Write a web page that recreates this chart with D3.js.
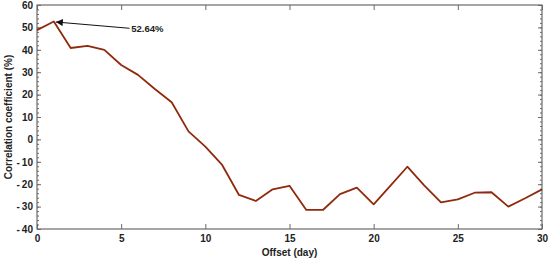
<!DOCTYPE html>
<html>
<head>
<meta charset="utf-8">
<script src="https://cdn.jsdelivr.net/npm/d3@7"></script>
<style>
  body { margin: 0; background: #fff; }
  text { font-family: Arial, "Liberation Sans", sans-serif; font-weight: bold; fill: #222; }
</style>
</head>
<body>
<script>
// offset in days and correlation coefficient (%)
const days = d3.range(0, 31)
const corr = [48.8, 52.64, 40.8, 41.8, 40.0, 33.2, 28.8, 22.5, 16.6, 3.6,
              -3.2, -11.4, -24.8, -27.5, -22.3, -20.7, -31.5, -31.4, -24.4, -21.5,
              -29.0, -20.6, -12.2, -20.5, -28.1, -26.8, -23.8, -23.6, -30.0, -26.3, -22.3]
const xTicks = [0, 5, 10, 15, 20, 25, 30]
const yTicks = [60, 50, 40, 30, 20, 10, 0, -10, -20, -30, -40]
const peakLabel = '52.64%'

const config = {
  width: 550,
  height: 261,
  left: 37,
  right: 542,
  top: 5,
  bottom: 229,
  lineColor: '#8f2a0c',
  axisColor: '#6a6a6a'
}

const svg = d3.select('body').append('svg')
  .attr('width', config.width)
  .attr('height', config.height)

const x = d3.scaleLinear().domain([0, 30]).range([config.left, config.right])
const y = d3.scaleLinear().domain([-40, 60]).range([config.bottom, config.top])

const minorY = d3.range(-40, 61, 2)
const fmt = d => d < 0 ? '-\u2009' + Math.abs(d) : String(d)

// frame
svg.append('rect')
  .attr('x', config.left).attr('y', config.top)
  .attr('width', config.right - config.left).attr('height', config.bottom - config.top)
  .attr('fill', 'none').attr('stroke', config.axisColor).attr('stroke-width', 1.2)

// bottom axis, ticks pointing in
const bottomAxis = svg.append('g').attr('transform', `translate(0,${config.bottom})`)
  .call(d3.axisBottom(x).tickValues(xTicks).tickSizeInner(-5).tickSizeOuter(0).tickPadding(6))
bottomAxis.select('.domain').remove()
bottomAxis.selectAll('line').attr('stroke', config.axisColor)
bottomAxis.selectAll('text').attr('font-size', 10).attr('fill', '#222')

// top axis, ticks only
const topAxis = svg.append('g').attr('transform', `translate(0,${config.top})`)
  .call(d3.axisTop(x).tickValues(xTicks).tickSizeInner(-5).tickSizeOuter(0).tickFormat(''))
topAxis.select('.domain').remove()
topAxis.selectAll('line').attr('stroke', config.axisColor)

// left axis
const leftAxis = svg.append('g').attr('transform', `translate(${config.left},0)`)
  .call(d3.axisLeft(y).tickValues(yTicks).tickSizeInner(-4).tickSizeOuter(0).tickPadding(4).tickFormat(fmt))
leftAxis.select('.domain').remove()
leftAxis.selectAll('line').attr('stroke', config.axisColor)
leftAxis.selectAll('text').attr('font-size', 10).attr('fill', '#222')
svg.append('g').attr('transform', `translate(${config.left},0)`)
  .call(d3.axisLeft(y).tickValues(minorY).tickSize(-2).tickFormat(''))
  .call(g => g.select('.domain').remove())
  .selectAll('line').attr('stroke', config.axisColor)

// right axis
svg.append('g').attr('transform', `translate(${config.right},0)`)
  .call(d3.axisRight(y).tickValues(yTicks).tickSize(-4).tickFormat(''))
  .call(g => g.select('.domain').remove())
  .selectAll('line').attr('stroke', config.axisColor)
svg.append('g').attr('transform', `translate(${config.right},0)`)
  .call(d3.axisRight(y).tickValues(minorY).tickSize(-2).tickFormat(''))
  .call(g => g.select('.domain').remove())
  .selectAll('line').attr('stroke', config.axisColor)

// line
const line = d3.line().x((d, i) => x(days[i])).y(d => y(d))
svg.append('path')
  .datum(corr)
  .attr('d', line)
  .attr('fill', 'none')
  .attr('stroke', config.lineColor)
  .attr('stroke-width', 1.8)
  .attr('stroke-linejoin', 'round')

// annotation arrow at the peak
svg.append('defs').append('marker')
  .attr('id', 'arrow')
  .attr('viewBox', '0 0 10 10')
  .attr('refX', 10).attr('refY', 5)
  .attr('markerWidth', 8).attr('markerHeight', 7)
  .attr('orient', 'auto')
  .append('path').attr('d', 'M0,0 L10,5 L0,10 z').attr('fill', '#111')

const peakX = x(days[1]), peakY = y(corr[1])
svg.append('line')
  .attr('x1', x(5.5)).attr('y1', y(49.6))
  .attr('x2', peakX + 2).attr('y2', peakY + 0.5)
  .attr('stroke', '#111').attr('stroke-width', 1)
  .attr('marker-end', 'url(#arrow)')
svg.append('text')
  .attr('x', x(5.6)).attr('y', y(49.6))
  .attr('dy', '0.35em')
  .attr('font-size', 9.5)
  .text(peakLabel)

// axis titles
svg.append('text')
  .attr('x', (config.left + config.right) / 2)
  .attr('y', 256)
  .attr('text-anchor', 'middle')
  .attr('font-size', 10)
  .text('Offset (day)')

svg.append('text')
  .attr('transform', `translate(12,${(config.top + config.bottom) / 2}) rotate(-90)`)
  .attr('text-anchor', 'middle')
  .attr('font-size', 10)
  .text('Correlation coefficient (%)')
</script>
</body>
</html>
